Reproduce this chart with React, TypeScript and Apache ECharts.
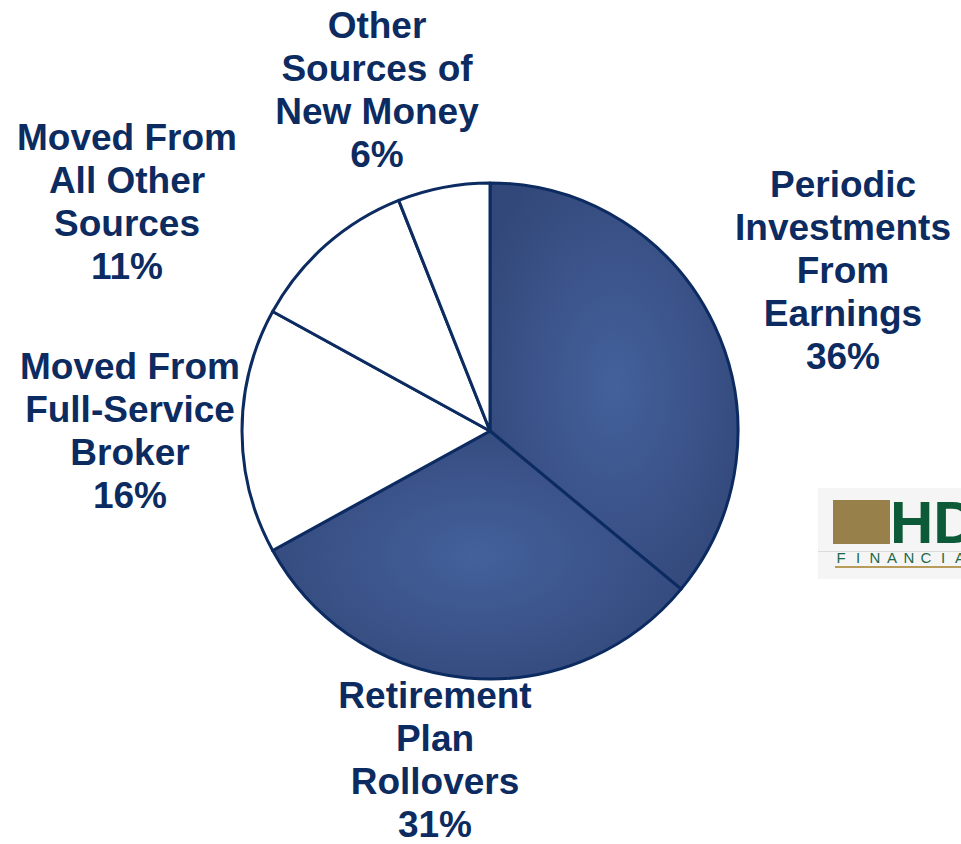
import React, { useEffect, useRef } from "react";
import * as echarts from "echarts";

const categories = [
  "Periodic\nInvestments\nFrom\nEarnings",
  "Retirement\nPlan\nRollovers",
  "Moved From\nFull-Service\nBroker",
  "Moved From\nAll Other\nSources",
  "Other\nSources of\nNew Money",
];
const values = [36, 31, 16, 11, 6];
const sliceFilled = [true, true, false, false, false];
const logoLetters = ["F", "I", "N", "A", "N", "C", "I", "A", "L"];

// layout (label block centres), not data
const labelCenters: [number, number][] = [
  [843, 270],
  [435, 760],
  [130, 431],
  [127, 202],
  [377, 90],
];

const NAVY = "#0c2b61";

export default function App() {
  const ref = useRef<HTMLDivElement>(null);
  useEffect(() => {
    if (!ref.current) return;
    const chart = echarts.init(ref.current, undefined, { renderer: "svg" });
    const grad = new echarts.graphic.RadialGradient(0.5, 0.5, 0.6, [
      { offset: 0, color: "#44619c" },
      { offset: 1, color: "#33487a" },
    ]);
    const logoGraphics: any[] = [
      { type: "rect", shape: { x: 818, y: 488, width: 143, height: 91 }, style: { fill: "#f5f5f5" }, z: 1 },
      { type: "rect", shape: { x: 818, y: 551, width: 143, height: 1 }, style: { fill: "#dcdcdc" }, z: 2 },
      { type: "rect", shape: { x: 833, y: 500, width: 57, height: 44 }, style: { fill: "#98804a" }, z: 3 },
      {
        type: "text", x: 890, y: 522, z: 3,
        style: { text: "HD", fill: "#0d5a38", font: "bold 60px 'Liberation Sans', Arial", lineHeight: 46, verticalAlign: "middle", align: "left" },
      },
      { type: "rect", shape: { x: 835, y: 566, width: 126, height: 2 }, style: { fill: "#b89c5c" }, z: 3 },
    ];
    logoLetters.forEach((l, i) => {
      logoGraphics.push({
        type: "text", x: 841 + i * 17, y: 557, z: 3,
        style: { text: l, fill: "#1d6a4a", font: "15px 'Liberation Sans', Arial", lineHeight: 14, align: "center", verticalAlign: "middle" },
      });
    });
    chart.setOption({
      animation: false,
      backgroundColor: "#ffffff",
      graphic: logoGraphics,
      series: [
        {
          type: "pie",
          center: [490, 431],
          radius: [0, 248],
          startAngle: 90,
          clockwise: true,
          silent: true,
          itemStyle: { borderColor: NAVY, borderWidth: 3 },
          label: {
            show: true,
            formatter: "{b}\n{c}%",
            color: NAVY,
            fontSize: 37,
            fontWeight: "bold",
            fontFamily: "'Liberation Sans', Arial, sans-serif",
            lineHeight: 43,
            align: "center",
            verticalAlign: "middle",
            overflow: "none",
          },
          labelLine: { show: false },
          labelLayout: (p: any) => ({
            x: labelCenters[p.dataIndex][0],
            y: labelCenters[p.dataIndex][1],
            align: "center",
            verticalAlign: "middle",
            width: 260,
          }),
          data: categories.map((c, i) => ({
            name: c,
            value: values[i],
            itemStyle: { color: sliceFilled[i] ? grad : "#ffffff" },
          })),
        },
      ],
    });
    return () => chart.dispose();
  }, []);
  return (
    <div
      ref={ref}
      style={{ position: "absolute", left: 0, top: 0, width: 961, height: 844 }}
    />
  );
}
